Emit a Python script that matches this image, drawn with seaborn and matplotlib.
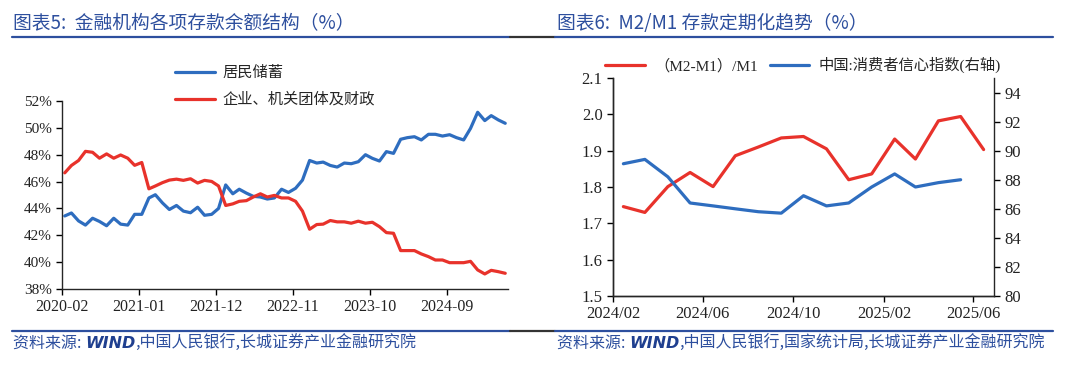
import matplotlib

matplotlib.use("Agg")
import matplotlib.pyplot as plt
import numpy as np
import pandas as pd
import seaborn as sns
from matplotlib.lines import Line2D
from matplotlib.ticker import FuncFormatter, MultipleLocator

# --------------------------------------------------------------------- #
# Data
# --------------------------------------------------------------------- #
# Figure 5: deposit structure, monthly 2020-02 .. 2025-05 (%)
DEP_START = "2020-02"
household = [
    43.44, 43.66, 43.07, 42.76, 43.27, 43.03, 42.71, 43.27, 42.83, 42.76,
    43.56, 43.56, 44.78, 45.02, 44.41, 43.92, 44.22, 43.80, 43.68, 44.09,
    43.49, 43.56, 44.00, 45.75, 45.09, 45.43, 45.14, 44.90, 44.85, 44.70,
    44.78, 45.43, 45.19, 45.50, 46.11, 47.57, 47.38, 47.45, 47.20, 47.08,
    47.38, 47.33, 47.48, 48.00, 47.73, 47.53, 48.23, 48.10, 49.15, 49.27,
    49.34, 49.10, 49.52, 49.52, 49.39, 49.49, 49.27, 49.10, 49.96, 51.16,
    50.54, 50.91, 50.59, 50.34,
]
corporate = [
    46.65, 47.20, 47.57, 48.25, 48.18, 47.74, 48.06, 47.74, 47.98, 47.74,
    47.21, 47.42, 45.46, 45.67, 45.92, 46.11, 46.18, 46.09, 46.21, 45.89,
    46.09, 46.01, 45.67, 44.22, 44.34, 44.53, 44.58, 44.85, 45.09, 44.85,
    44.97, 44.78, 44.78, 44.53, 43.80, 42.45, 42.80, 42.83, 43.10, 43.00,
    43.00, 42.90, 43.05, 42.90, 42.97, 42.64, 42.20, 42.15, 40.86, 40.86,
    40.86, 40.61, 40.41, 40.16, 40.16, 39.96, 39.96, 39.96, 40.06, 39.42,
    39.12, 39.39, 39.29, 39.17,
]
dep_ticks = ["2020-02", "2021-01", "2021-12", "2022-11", "2023-10", "2024-09"]
dep_labels = ["居民储蓄", "企业、机关团体及财政"]

# Figure 6: (M2-M1)/M1 and consumer confidence, monthly 2024-02 .. 2025-06
M_START = "2024-02"
m2m1_ratio = [1.746, 1.730, 1.801, 1.840, 1.801, 1.886, 1.910, 1.935, 1.939,
              1.905, 1.820, 1.836, 1.932, 1.877, 1.982, 1.994, 1.903]
cci = [89.1, 89.4, 88.2, 86.4, 86.2, 86.0, 85.8, 85.7, 86.9, 86.2, 86.4,
       87.5, 88.4, 87.5, 87.8, 88.0]
m_ticks = ["2024/02", "2024/06", "2024/10", "2025/02", "2025/06"]
m_labels = ["（M2-M1）/M1", "中国:消费者信心指数(右轴)"]

# --------------------------------------------------------------------- #
# Style
# --------------------------------------------------------------------- #
sns.set_style("ticks")
plt.rcParams["font.family"] = ["Liberation Serif", "Noto Sans CJK SC", "DejaVu Sans"]
plt.rcParams["axes.linewidth"] = 1.0
CJK = ["Noto Sans CJK SC", "DejaVu Sans"]

BLUE = "#2E6DBF"
RED = "#E8322B"
HEAD = "#2D4F9E"
TXT = "#222222"
LW = 2.3

W, H = 1080, 367
fig = plt.figure(figsize=(W / 100, H / 100), dpi=100)


def fx(px):
    return px / W


def fy(py):
    return 1 - py / H


def style_axis(ax, size=11.5):
    ax.tick_params(direction="out", length=4, width=1, labelsize=size,
                   colors="black", labelcolor=TXT)
    ax.set_xlabel("")
    ax.set_ylabel("")


# --------------------------------------------------------------------- #
# Left panel
# --------------------------------------------------------------------- #
dep_dates = (pd.date_range(DEP_START, periods=len(household), freq="MS")
             + pd.Timedelta(days=12))
dep = pd.DataFrame({"date": dep_dates, dep_labels[0]: household,
                    dep_labels[1]: corporate})

ax1 = fig.add_axes([fx(62), fy(289), fx(508 - 62), (289 - 101) / H])
sns.lineplot(data=dep, x="date", y=dep_labels[0], ax=ax1, color=BLUE,
             linewidth=LW, label=dep_labels[0])
sns.lineplot(data=dep, x="date", y=dep_labels[1], ax=ax1, color=RED,
             linewidth=LW, label=dep_labels[1])
ax1.set_ylim(38, 52)
ax1.yaxis.set_major_locator(MultipleLocator(2))
ax1.yaxis.set_major_formatter(FuncFormatter(lambda v, _: f"{v:.0f}%"))
tick_d = pd.to_datetime(dep_ticks, format="%Y-%m")
ax1.set_xticks(tick_d)
ax1.set_xticklabels(dep_ticks)
ax1.set_xlim(pd.Timestamp("2020-02-01"), pd.Timestamp("2025-05-25"))
sns.despine(ax=ax1)
style_axis(ax1)
ax1.tick_params(axis="y", labelsize=11)
ax1.legend(loc="upper left", bbox_to_anchor=(fx(175), fy(64)),
           bbox_transform=fig.transFigure, frameon=False,
           handlelength=2.6, handletextpad=0.5, labelspacing=0.65,
           borderpad=0, borderaxespad=0, prop={"family": CJK, "size": 11})

# --------------------------------------------------------------------- #
# Right panel
# --------------------------------------------------------------------- #
m_dates = (pd.date_range(M_START, periods=len(m2m1_ratio), freq="MS")
           + pd.Timedelta(days=14))
money = pd.DataFrame({"date": m_dates, "ratio": m2m1_ratio,
                      "cci": cci + [np.nan] * (len(m2m1_ratio) - len(cci))})

ax2 = fig.add_axes([fx(613), fy(296), fx(994 - 613), (296 - 78) / H])
ax3 = ax2.twinx()
sns.lineplot(data=money, x="date", y="ratio", ax=ax2, color=RED,
             linewidth=LW, label=m_labels[0])
sns.lineplot(data=money.dropna(), x="date", y="cci", ax=ax3, color=BLUE,
             linewidth=LW, label=m_labels[1])
ax2.set_ylim(1.5, 2.1)
ax2.yaxis.set_major_locator(MultipleLocator(0.1))
ax2.yaxis.set_major_formatter(FuncFormatter(lambda v, _: f"{v:.1f}"))
ax3.set_ylim(80, 95)
ax3.set_yticks(np.arange(80, 95, 2))
tick_m = pd.to_datetime(m_ticks, format="%Y/%m")
ax2.set_xticks(tick_m)
ax2.set_xticklabels(m_ticks)
ax2.set_xlim(pd.Timestamp("2024-02-01"), pd.Timestamp("2025-06-29"))
for a in (ax2, ax3):
    a.spines["top"].set_visible(False)
    style_axis(a, 12)
ax2.spines["right"].set_visible(False)

h2, l2 = ax2.get_legend_handles_labels()
h3, l3 = ax3.get_legend_handles_labels()
ax2.get_legend().remove()
ax3.get_legend().remove()
ax3.legend(h2 + h3, l2 + l3, loc="upper left", ncol=2,
           bbox_to_anchor=(fx(605), fy(57)), bbox_transform=fig.transFigure,
           frameon=False, handlelength=2.6, handletextpad=0.6,
           columnspacing=0.8, borderpad=0, borderaxespad=0,
           prop={"size": 11})

# --------------------------------------------------------------------- #
# Headers, rules and source notes
# --------------------------------------------------------------------- #
for x0, x1, c in [(12, 510, HEAD), (510, 555, "#333333"), (555, 1053, HEAD)]:
    for yy in (36.5, 330.5):
        fig.add_artist(Line2D([fx(x0), fx(x1)], [fy(yy), fy(yy)],
                              transform=fig.transFigure, color=c, lw=1.6))

fig.text(fx(13), fy(24), "图表5:  金融机构各项存款余额结构（%）", color=HEAD,
         fontsize=13.5, family=CJK, va="center", ha="left")
fig.text(fx(557), fy(24), "图表6:  M2/M1 存款定期化趋势（%）", color=HEAD,
         fontsize=13.5, family=CJK, va="center", ha="left")


def source_note(x_px, rest):
    t0 = fig.text(fx(x_px), fy(343), "资料来源: ", color=HEAD, fontsize=11.5,
                  family=CJK, va="center", ha="left")
    a1 = fig.add_artist(plt.Annotation("WIND", xy=(1, 0.5), xycoords=t0,
                                       va="center", ha="left", color="#1F3F8F",
                                       fontsize=11.5, weight="bold",
                                       style="italic", family=["DejaVu Sans"]))
    fig.add_artist(plt.Annotation(rest, xy=(1, 0.5), xycoords=a1,
                                  va="center", ha="left", color=HEAD,
                                  fontsize=11.5, family=CJK))


source_note(13, ",中国人民银行,长城证券产业金融研究院")
source_note(557, ",中国人民银行,国家统计局,长城证券产业金融研究院")

fig.savefig("out.png", dpi=100)
